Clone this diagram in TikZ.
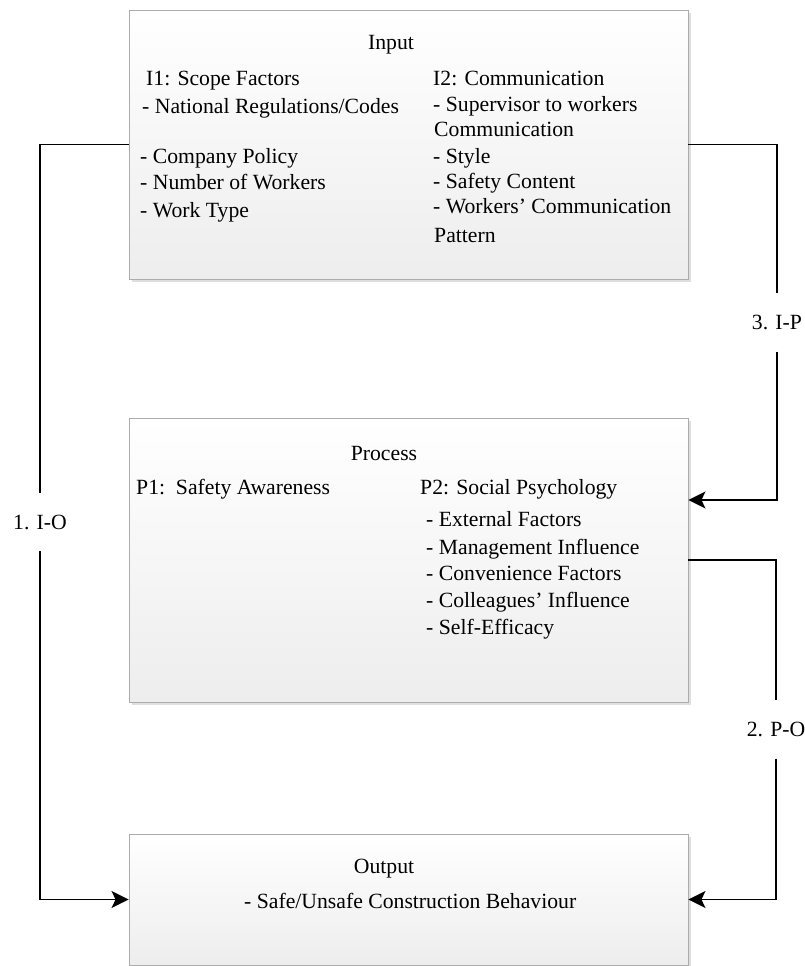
\documentclass[tikz,border=0pt]{standalone}
\usepackage{fontspec}
\setmainfont{Liberation Serif}
\usepackage{tikz}
\usetikzlibrary{arrows.meta, positioning, shadows}

\begin{document}
\begin{tikzpicture}[x=1pt, y=-1pt,
  font=\fontsize{21.7}{26}\selectfont,
  stagebox/.style={draw=gray!65, line width=0.9pt, top color=white, bottom color=gray!14,
    minimum width=559pt, inner sep=0pt,
    drop shadow={shadow xshift=3pt, shadow yshift=-3pt, fill=gray!25, opacity=1}},
  txt/.style={anchor=base west, inner sep=0pt},
  ttl/.style={anchor=base, inner sep=0pt},
  lbl/.style={inner sep=0pt, minimum height=58pt},
  link/.style={line width=1.6pt},
  tip/.style={-{Stealth[length=17pt, width=17pt, inset=4pt]}}
]
  \useasboundingbox (0,0) rectangle (805,966);

  % boxes
  \node[stagebox, minimum height=269pt] (inp) at (408.5,144.5) {};
  \node[stagebox, minimum height=284pt] (proc) at (408.5,560) {};
  \node[stagebox, minimum height=131pt] (outp) at (408.5,899.5) {};

  % input texts
  \node[ttl] (inTitle) at (391,50) {Input};
  \node[txt] (i1) at (146,85) {I1: Scope Factors};
  \node[txt] (i1a) at (142,113) {- National Regulations/Codes};
  \node[txt] (i1b) at (140,163) {- Company Policy};
  \node[txt] (i1c) at (140,189) {- Number of Workers};
  \node[txt] (i1d) at (140,217) {- Work Type};
  \node[txt] (i2) at (433,85) {I2: Communication};
  \node[txt] (i2a) at (433,111) {- Supervisor to workers};
  \node[txt] (i2b) at (434,136) {Communication};
  \node[txt] (i2c) at (433,163) {- Style};
  \node[txt] (i2d) at (433,188) {- Safety Content};
  \node[txt] (i2e) at (433,213) {- Workers’ Communication};
  \node[txt] (i2f) at (434,242) {Pattern};

  % process texts
  \node[ttl] (procTitle) at (384,460) {Process};
  \node[txt] (p1) at (136,494) {P1:\ \ Safety Awareness};
  \node[txt] (p2) at (420,494) {P2: Social Psychology};
  \node[txt] (p2a) at (426,526) {- External Factors};
  \node[txt] (p2b) at (426,554) {- Management Influence};
  \node[txt] (p2c) at (426,580) {- Convenience Factors};
  \node[txt] (p2d) at (426,607) {- Colleagues’ Influence};
  \node[txt] (p2e) at (426,634) {- Self-Efficacy};

  % output texts
  \node[ttl] (outTitle) at (384,873) {Output};
  \node[txt] (o1) at (244,908) {- Safe/Unsafe Construction Behaviour};

  % links
  \node[lbl] (io) at (40,522) {1. I-O};
  \node[lbl] (ip) at (777,322.5) {3. I-P};
  \node[lbl] (po) at (776,729.5) {2. P-O};

  \draw[link] (inp.west) -| (io.north);
  \draw[link, tip] (io.south) |- (outp.west);
  \draw[link] (inp.east) -| (ip.north);
  \draw[link, tip] (ip.south) |- ([yshift=60pt]proc.east);
  \draw[link] (proc.east) -| (po.north);
  \draw[link, tip] (po.south) |- (outp.east);
\end{tikzpicture}
\end{document}
